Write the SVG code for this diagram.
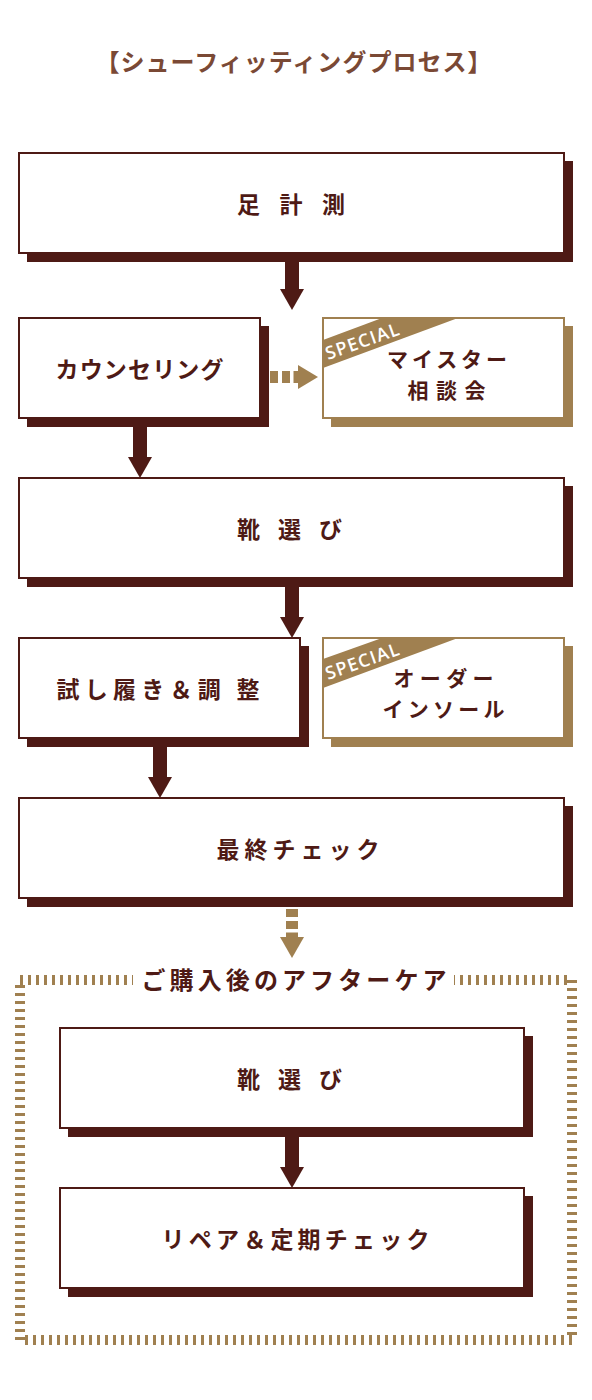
<svg xmlns="http://www.w3.org/2000/svg" width="592" height="1400" viewBox="0 0 592 1400">
<style>
.box{fill:#fff;stroke:#4e1a15;stroke-width:2}
.sh{fill:#4e1a15}
.sbox{fill:#fff;stroke:#a08050;stroke-width:2}
.ssh{fill:#a08050}
.t{font-family:"Noto Sans CJK JP","Noto Sans",sans-serif;font-weight:700;fill:#4e1a15;font-size:23px;text-anchor:middle}
.st{font-size:21px}
.sp{font-family:"Open Sans","Liberation Sans",sans-serif;font-weight:600;fill:#fff;font-size:18px;letter-spacing:1.2px}
.ar{fill:#4e1a15}
.da{fill:#a08050}
</style>
<rect width="592" height="1400" fill="#fff"/>
<text id="title" x="293.5" y="71" class="t" style="fill:#7a4935;font-size:24px" textLength="396" lengthAdjust="spacing">【シューフィッティングプロセス】</text>

<g id="connectors">
<rect class="ar" x="285" y="260" width="14" height="30"/>
<polygon class="ar" points="280,289 304,289 292,310"/>
<rect class="ar" x="133" y="426" width="14" height="32"/>
<polygon class="ar" points="128,457 152,457 140,478"/>
<rect class="ar" x="285" y="586" width="14" height="32"/>
<polygon class="ar" points="280,617 304,617 292,638"/>
<rect class="ar" x="153" y="746" width="14" height="32"/>
<polygon class="ar" points="148,777 172,777 160,798"/>
<rect class="ar" x="285" y="1136" width="14" height="32"/>
<polygon class="ar" points="280,1167 304,1167 292,1188"/>
<rect class="da" x="270" y="371" width="8" height="12"/>
<rect class="da" x="282" y="371" width="8" height="12"/>
<rect class="da" x="293.5" y="371" width="5" height="12"/>
<polygon class="da" points="298,365 298,389 318,377"/>
<rect class="da" x="286" y="909" width="12" height="8"/>
<rect class="da" x="286" y="921" width="12" height="8"/>
<rect class="da" x="286" y="932.5" width="12" height="5"/>
<polygon class="da" points="280,937 304,937 292,958"/>
</g>

<g id="step1">
<rect class="sh" x="27" y="161" width="546" height="101"/>
<rect class="box" x="19" y="153" width="545" height="100"/>
<text class="t" x="291" y="213" textLength="108" lengthAdjust="spacing">足 計 測</text>
</g>
<g id="step2">
<rect class="sh" x="27" y="326" width="242" height="101"/>
<rect class="box" x="19" y="318" width="241" height="100"/>
<text class="t" x="139.5" y="378" textLength="168" lengthAdjust="spacing">カウンセリング</text>
</g>
<g id="special1">
<rect class="ssh" x="331" y="326" width="242" height="101"/>
<rect class="sbox" x="323" y="318" width="241" height="100"/>
<polygon class="ssh" points="323,340 382,318 458,318 323,368"/>
<text class="sp" transform="translate(328,360) rotate(-19.5)">SPECIAL</text>
<text class="t st" x="447" y="367" textLength="120" lengthAdjust="spacing">マイスター</text>
<text class="t st" x="446.5" y="398" textLength="78" lengthAdjust="spacing">相談会</text>
</g>
<g id="step3">
<rect class="sh" x="27" y="486" width="546" height="101"/>
<rect class="box" x="19" y="478" width="545" height="100"/>
<text class="t" x="289.5" y="538" textLength="105" lengthAdjust="spacing">靴 選 び</text>
</g>
<g id="step4">
<rect class="sh" x="27" y="646" width="282" height="101"/>
<rect class="box" x="19" y="638" width="281" height="100"/>
<text class="t" x="158" y="698" textLength="203" lengthAdjust="spacing">試し履き＆調 整</text>
</g>
<g id="special2">
<rect class="ssh" x="331" y="646" width="242" height="101"/>
<rect class="sbox" x="323" y="638" width="241" height="100"/>
<polygon class="ssh" points="323,659 382,638 458,638 323,688"/>
<text class="sp" transform="translate(328,680) rotate(-19.5)">SPECIAL</text>
<text class="t st" x="443.5" y="686" textLength="100" lengthAdjust="spacing">オーダー</text>
<text class="t st" x="443.5" y="717" textLength="122" lengthAdjust="spacing">インソール</text>
</g>
<g id="step5">
<rect class="sh" x="27" y="806" width="546" height="101"/>
<rect class="box" x="19" y="798" width="545" height="100"/>
<text class="t" x="298" y="858" textLength="163" lengthAdjust="spacing">最終チェック</text>
</g>

<g id="aftercare">
<rect x="20" y="980" width="552" height="360" fill="none" stroke="#a08050" stroke-width="10" stroke-dasharray="3 5"/>
<rect x="133" y="968" width="321" height="24" fill="#fff"/>
<text class="t" x="294" y="989" style="font-size:24px" textLength="305" lengthAdjust="spacing">ご購入後のアフターケア</text>
</g>
<g id="care1">
<rect class="sh" x="68" y="1036" width="465" height="101"/>
<rect class="box" x="60" y="1028" width="464" height="100"/>
<text class="t" x="289.5" y="1088" textLength="105" lengthAdjust="spacing">靴 選 び</text>
</g>
<g id="care2">
<rect class="sh" x="68" y="1196" width="465" height="101"/>
<rect class="box" x="60" y="1188" width="464" height="100"/>
<text class="t" x="295.5" y="1248" textLength="268" lengthAdjust="spacing">リペア＆定期チェック</text>
</g>
</svg>
